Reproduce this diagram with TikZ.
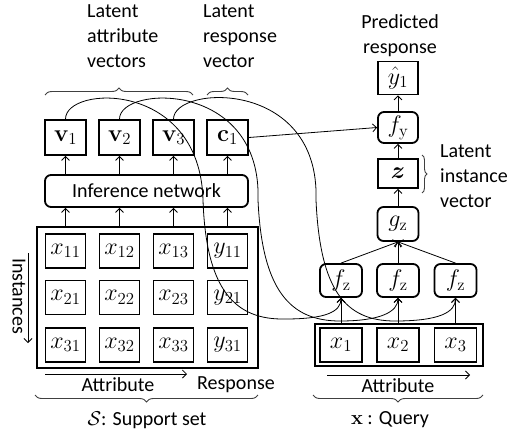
\documentclass[tikz,border=0pt]{standalone}
\usepackage{fix-cm}
\usepackage{amsmath}
\usepackage[no-math]{fontspec}
\setmainfont{Carlito}
\usetikzlibrary{arrows.meta, decorations.pathreplacing}

\tikzset{
  cell/.style={draw, line width=1.8pt, minimum width=40pt, minimum height=34pt, inner sep=0pt,
    font=\fontsize{24}{28}\selectfont},
  rcell/.style={cell, rounded corners=6pt},
  frame/.style={draw, line width=1.8pt, inner sep=0pt},
  lbl/.style={inner sep=0pt, align=left},
  link/.style={line width=0.8pt, -{Straight Barb[length=4pt,width=8pt]}},
  curly/.style={decorate, decoration={brace, amplitude=7pt}, line width=0.9pt, black!75}
}

\begin{document}
\begin{tikzpicture}[x=1pt, y=-1pt, font=\fontsize{20}{25}\selectfont]
  \useasboundingbox (0,0) rectangle (513,433);

  \node[frame, minimum width=221pt, minimum height=141pt] (S) at (147.5,297.5) {};
  \foreach \c/\x in {1/65.5, 2/119.5, 3/173.5}
    \foreach \r/\y in {1/251, 2/297.5, 3/345}
      \node[cell] (x\r\c) at (\x,\y) {$x_{\r\c}$};
  \foreach \r/\y in {1/251, 2/297.5, 3/345}
    \node[cell] (y\r1) at (227.5,\y) {$y_{\r1}$};

  \node[rcell, minimum width=203pt, minimum height=32pt, font=\fontsize{20}{25}\selectfont] (inf) at (146.5,191) {Inference network};
  \node[cell, minimum width=41pt, minimum height=35pt] (v1) at (65.5,137.5) {$\mathbf{v}_1$};
  \node[cell, minimum width=41pt, minimum height=35pt] (v2) at (119.5,137.5) {$\mathbf{v}_2$};
  \node[cell, minimum width=41pt, minimum height=35pt] (v3) at (173.5,137.5) {$\mathbf{v}_3$};
  \node[cell, minimum width=41pt, minimum height=35pt] (c1) at (227.5,137.5) {$\mathbf{c}_1$};
  \foreach \n in {v1, v2, v3, c1} {
    \draw[link] (inf.north -| \n) -- (\n.south);
    \draw[link] (S.north -| \n) -- (inf.south -| \n);
  }

  \node[cell, minimum height=33pt] (yhat) at (398,78) {$\hat{y}_1$};
  \node[rcell, minimum height=31pt] (fy) at (398,127.5) {$f_{\mathrm{y}}$};
  \node[cell, minimum height=29pt] (z) at (398,173.5) {$\boldsymbol{z}$};
  \node[rcell, minimum width=41pt] (gz) at (398,224) {$g_{\mathrm{z}}$};
  \node[rcell, minimum width=42pt, minimum height=33pt] (fz1) at (341,280.5) {$f_{\mathrm{z}}$};
  \node[rcell, minimum width=42pt, minimum height=33pt] (fz2) at (398,280.5) {$f_{\mathrm{z}}$};
  \node[rcell, minimum width=42pt, minimum height=33pt] (fz3) at (455.5,280.5) {$f_{\mathrm{z}}$};

  \node[frame, minimum width=168pt, minimum height=42pt] (Q) at (399,345) {};
  \node[cell, minimum width=42pt] (q1) at (341,345) {$x_1$};
  \node[cell, minimum width=42pt] (q2) at (398,345) {$x_2$};
  \node[cell, minimum width=42pt] (q3) at (455.5,345) {$x_3$};

  \draw[link] (fy) -- (yhat);
  \draw[link] (z) -- (fy);
  \draw[link] (gz) -- (z);
  \foreach \i in {1,2,3} {
    \draw[link] (fz\i.north) -- (gz.south);
    \draw[link] (Q.north -| q\i) -- (fz\i.south);
  }
  \draw[link] (c1.east) -- (fy.west);

  \draw[link] (v1.north) .. controls (65.5,85) and (200,80) .. (203,200)
    .. controls (206,290) and (235,320) .. (285,319)
    .. controls (325,319) and (341,312) .. (fz1.south);
  \draw[link] (v2.north) .. controls (119.5,85) and (262,80) .. (258,200)
    .. controls (262,290) and (290,321) .. (340,321)
    .. controls (380,321) and (398,312) .. (fz2.south);
  \draw[link] (v3.north) .. controls (173.5,85) and (320,78) .. (316,200)
    .. controls (320,290) and (345,321) .. (395,321)
    .. controls (440,321) and (455.5,312) .. (fz3.south);

  \node[lbl, anchor=north west] (latt) at (87,4) {Latent\\attribute\\vectors};
  \node[lbl, anchor=north west] (lres) at (203,4) {Latent\\response\\vector};
  \node[lbl, align=center, anchor=north] (pred) at (400,14) {Predicted\\response};
  \node[lbl, anchor=north west] (linst) at (440,144) {Latent\\instance\\vector};

  \draw[curly] (45,95) -- (193,95);
  \draw[curly] (207,95) -- (248,95);
  \draw[curly, decoration={amplitude=5pt}] (422,155) -- (422,193);
  \draw[curly] (258,395) -- (35,395);
  \draw[curly] (483,395) -- (313,395);

  \node[lbl, rotate=-90] (inst) at (19,296) {Instances};
  \coordinate (ia) at (28,253);
  \coordinate (ib) at (28,343);
  \draw[link] (ia) -- (ib);
  \coordinate (sa) at (45,374);
  \coordinate (sb) at (187,374);
  \draw[link] (sa) -- (sb);
  \coordinate (qa) at (327,375);
  \coordinate (qb) at (470,375);
  \draw[link] (qa) -- (qb);
  \node[lbl] (satt) at (118,385) {Attribute};
  \node[lbl] (sres) at (236,385) {Response};
  \node[lbl] (qatt) at (398,386) {Attribute};
  \node[lbl] (sset) at (147,420) {$\mathcal{S}$: Support set};
  \node[lbl] (qset) at (390,420) {$\mathbf{x}$ : Query};
\end{tikzpicture}
\end{document}
